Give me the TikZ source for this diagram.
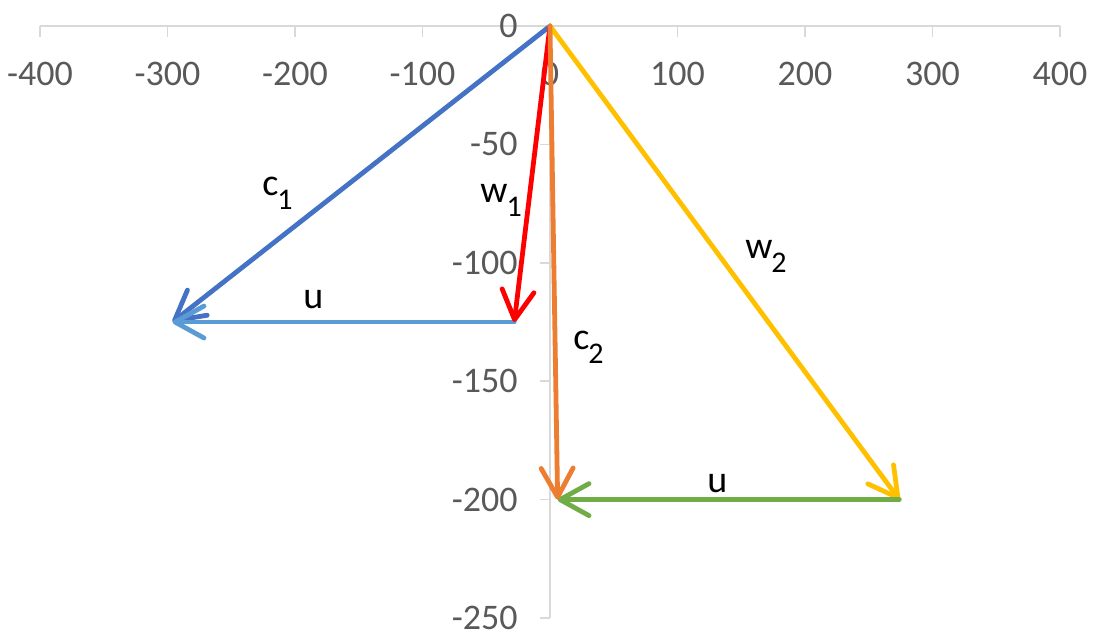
\documentclass[tikz,border=0pt]{standalone}
\usepackage{fontspec}
\setmainfont{Carlito}
\usetikzlibrary{arrows.meta}
\definecolor{axisclr}{RGB}{217,217,217}
\definecolor{numclr}{RGB}{89,89,89}
\definecolor{coneclr}{RGB}{68,114,196}
\definecolor{uoneclr}{RGB}{91,155,213}
\definecolor{woneclr}{RGB}{255,0,0}
\definecolor{ctwoclr}{RGB}{237,125,49}
\definecolor{wtwoclr}{RGB}{255,192,0}
\definecolor{utwoclr}{RGB}{112,173,71}
\tikzset{
  axisline/.style={draw=axisclr,line width=0.8pt},
  num/.style={text=numclr,inner sep=0pt,font=\fontsize{18}{18}\selectfont},
  vec/.style={line width=2.4pt,line cap=round,
              -{Straight Barb[length=14.5pt,width=16pt,round]}},
  lab/.style={inner sep=0pt,anchor=base west,font=\fontsize{19}{19}\selectfont},
}
\newcommand{\vlab}[2]{#1\kern-0.5pt\raisebox{-7pt}{\fontsize{15}{15}\selectfont #2}}

\begin{document}
\begin{tikzpicture}[x=0.6375pt,y=1.184pt]
\useasboundingbox (-431.4,11) rectangle (427.5,-255.5);

% axes
\draw[axisline] (-400,0) -- (400,0);
\draw[axisline] (0,0) -- (0,-250);
\foreach \x in {-400,-300,...,400} {
  \draw[axisline] (\x,0) -- ++(0,-5.5pt);
  \node[num] (xl\x) at (\x,-20.1) {\x};
}
\foreach \y in {0,-50,...,-250} {
  \draw[axisline] (0,\y) -- ++(-5pt,0);
  \node[num,anchor=east] (yl\y) at (-25.1,\y) {\y};
}

% points of the two triangles
\coordinate (O)  at (0,0);
\coordinate (P1) at (-28,-125);
\coordinate (Q1) at (-296,-125);
\coordinate (P2) at (274,-200);
\coordinate (Q2) at (6,-200);

% vectors
\draw[vec,coneclr] (O) -- (Q1);
\draw[vec,uoneclr] (P1) -- (Q1);
\draw[vec,woneclr] (O) -- (P1);
\draw[vec,wtwoclr] (O) -- (P2);
\draw[vec,utwoclr] (P2) -- (Q2);
\draw[vec,ctwoclr] (O) -- (Q2);

% labels
\node[lab] (lc1) at (-225.9,-71.4) {\vlab{c}{1}};
\node[lab] (lw1) at (-54.9,-74.7)  {\vlab{w}{1}};
\node[lab] (lu1) at (-193.7,-119.1) {u};
\node[lab] (lc2) at (18.0,-136.8)  {\vlab{c}{2}};
\node[lab] (lw2) at (152.9,-98.0)  {\vlab{w}{2}};
\node[lab] (lu2) at (123.1,-196.8) {u};

\end{tikzpicture}
\end{document}
